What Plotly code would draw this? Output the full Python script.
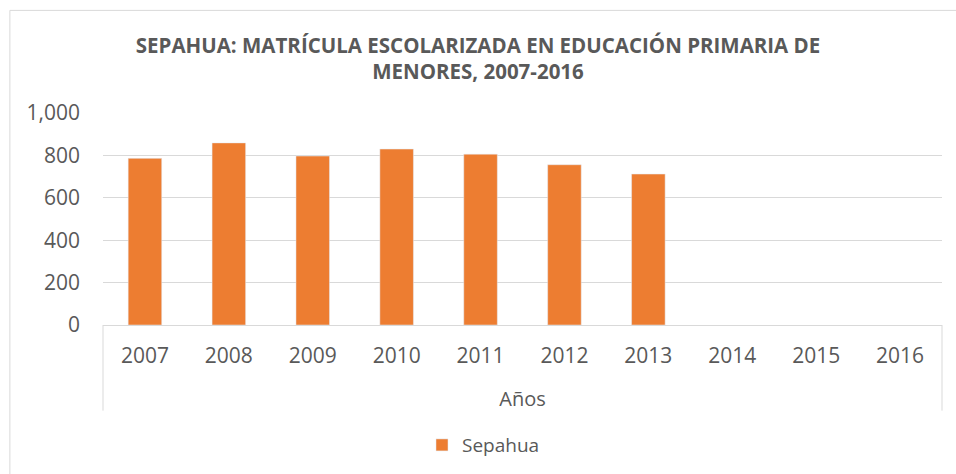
import plotly.graph_objects as go

years = ["2007", "2008", "2009", "2010", "2011", "2012", "2013", "2014", "2015", "2016"]
sepahua = [786, 859, 797, 830, 806, 756, 712, None, None, None]
y_ticks = [0, 200, 400, 600, 800, 1000]

title_text = "<b>SEPAHUA: MATRÍCULA ESCOLARIZADA EN EDUCACIÓN PRIMARIA DE<br>MENORES, 2007-2016</b>"
gray = "#595959"
grid = "#D9D9D9"
font_family = "Open Sans, Noto Sans, sans-serif"

fig = go.Figure()
fig.add_trace(go.Bar(x=years, y=sepahua, name="Sepahua", marker_color="#ED7D31"))

fig.update_layout(
    width=956, height=474,
    margin=dict(l=103, r=14, t=113, b=148),
    paper_bgcolor="white", plot_bgcolor="white",
    bargap=0.6,
    font=dict(family=font_family, color=gray, size=20),
    title=dict(text=title_text, x=0.5, xanchor="center", y=0.889, yanchor="middle",
               font=dict(family=font_family, size=20.5, color=gray)),
    showlegend=True,
    legend=dict(orientation="h", x=0.4535, xanchor="center", y=-0.559, yanchor="middle",
                itemwidth=30, font=dict(size=19, color=gray)),
    xaxis=dict(type="category", showgrid=False, showline=True, linecolor=grid, linewidth=1,
               ticks="", ticklabelstandoff=12, tickfont=dict(size=21, color=gray),
               title=dict(text="Años", font=dict(size=20, color=gray), standoff=23)),
    yaxis=dict(range=[0, 1000], tickvals=y_ticks, tickformat=",", showgrid=True,
               gridcolor=grid, zeroline=False, showline=False, ticks="",
               ticklabelstandoff=22, tickfont=dict(size=21, color=gray)),
)

# Excel-style category axis dividers at both ends
for xv in (0, 1):
    fig.add_shape(type="line", xref="paper", yref="paper", x0=xv, x1=xv, y0=0, y1=-0.404,
                  line=dict(color=grid, width=1))

# outer chart frame
fig.add_shape(type="rect", xref="paper", yref="paper", x0=-0.111, x1=1.03, y0=-0.72, y1=1.484,
              line=dict(color="#D9D9D9", width=1), fillcolor="rgba(0,0,0,0)", layer="below")

fig.write_html("out.html", config={"displayModeBar": False},
               post_script="document.body.style.margin='0px';")
